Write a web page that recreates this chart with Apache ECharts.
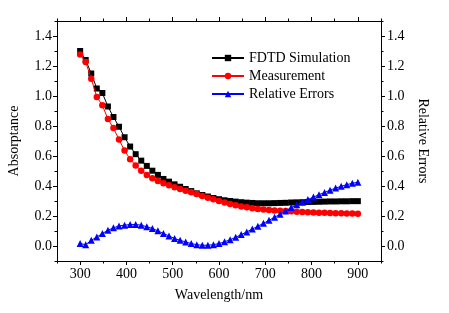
<!DOCTYPE html>
<html><head><meta charset="utf-8">
<script src="https://cdn.jsdelivr.net/npm/echarts@6/dist/echarts.min.js"></script>
<style>html,body{margin:0;padding:0;background:#fff}#c{width:449px;height:313px}</style>
</head><body><div id="c"></div>
<script>
const wavelength = [300,312,324,336,348,360,372,384,396,408,420,432,444,456,468,480,492,504,516,528,540,552,564,576,588,600,612,624,636,648,660,672,684,696,708,720,732,744,756,768,780,792,804,816,828,840,852,864,876,888,900];
const fdtd = [1.30,1.24,1.15,1.05,1.02,0.93,0.86,0.795,0.725,0.663,0.612,0.569,0.534,0.502,0.474,0.447,0.429,0.411,0.395,0.380,0.366,0.351,0.340,0.330,0.320,0.312,0.305,0.300,0.296,0.292,0.289,0.287,0.285,0.285,0.285,0.286,0.287,0.288,0.290,0.291,0.292,0.293,0.294,0.295,0.296,0.297,0.297,0.298,0.298,0.299,0.299];
const measurement = [1.277,1.226,1.115,0.994,0.938,0.846,0.786,0.71,0.636,0.579,0.536,0.502,0.474,0.451,0.433,0.418,0.405,0.391,0.380,0.368,0.358,0.346,0.333,0.322,0.311,0.300,0.290,0.280,0.272,0.264,0.258,0.252,0.247,0.243,0.240,0.237,0.235,0.233,0.231,0.229,0.227,0.225,0.224,0.222,0.221,0.220,0.219,0.218,0.217,0.216,0.215];
const relErrors = [0.016,0.009,0.038,0.06,0.083,0.105,0.121,0.134,0.139,0.143,0.143,0.139,0.128,0.117,0.101,0.083,0.067,0.05,0.038,0.027,0.016,0.009,0.005,0.005,0.009,0.016,0.028,0.042,0.058,0.076,0.094,0.113,0.132,0.151,0.171,0.192,0.211,0.234,0.256,0.275,0.292,0.310,0.326,0.342,0.357,0.372,0.386,0.398,0.409,0.418,0.425];
const xMajor = [300,400,500,600,700,800,900];
const xMinor = [250,350,450,550,650,750,850,950];
const yMajor = [0,0.2,0.4,0.6,0.8,1.0,1.2,1.4];
const yMinor = [-0.1,0.1,0.3,0.5,0.7,0.9,1.1,1.3,1.5];

const FONT = '"Liberation Serif","Times New Roman",serif';
const FS = 14;
const black = '#000';
function xAx(pos, labels, ticks, len, lineShow, extra) {
  return Object.assign({
    type:'value', position:pos, min:250, max:950, gridIndex:0,
    axisLine:{show:lineShow, onZero:false, lineStyle:{color:black, width:1}},
    axisTick:{show:true, inside:false, length:len, customValues:ticks, lineStyle:{color:black}},
    axisLabel:{show:labels, customValues:ticks, color:black, fontFamily:FONT, fontSize:FS, margin:6},
    splitLine:{show:false}
  }, extra||{});
}
function yAx(pos, labels, ticks, len, lineShow, margin, extra) {
  return Object.assign({
    type:'value', position:pos, min:-0.1, max:1.5,
    axisLine:{show:lineShow, onZero:false, lineStyle:{color:black, width:1}},
    axisTick:{show:true, inside:false, length:len, customValues:ticks, lineStyle:{color:black}},
    axisLabel:{show:labels, customValues:ticks, color:black, fontFamily:FONT, fontSize:FS, margin:margin,
      formatter:v=>Number(v).toFixed(1)},
    splitLine:{show:false}
  }, extra||{});
}
const xs = wavelength;
const chart = echarts.init(document.getElementById('c'), null, {renderer:'canvas'});
chart.setOption({
  animation:false,
  backgroundColor:'#fff',
  grid:{left:57, right:68, top:21, bottom:52, containLabel:false, outerBoundsMode:'none'},
  legend:{
    orient:'vertical', left:206, top:46, itemWidth:32, itemHeight:8, itemGap:4,
    textStyle:{fontFamily:FONT, fontSize:FS, color:black},
    data:['FDTD Simulation','Measurement','Relative Errors']
  },
  xAxis:[
    xAx('bottom', true, xMajor, 4, true, {name:'Wavelength/nm', nameLocation:'middle', nameGap:27,
      nameTextStyle:{fontFamily:FONT, fontSize:FS, color:black}}),
    xAx('bottom', false, xMinor, 2.5, false),
    xAx('top', false, xMajor, 4, true),
    xAx('top', false, xMinor, 2.5, false)
  ],
  yAxis:[
    yAx('left', true, yMajor, 4, true, 5, {name:'Absorptance', nameLocation:'middle', nameRotate:90, nameGap:36,
      nameTextStyle:{fontFamily:FONT, fontSize:FS, color:black}}),
    yAx('left', false, yMinor, 2.5, false, 5),
    yAx('right', true, yMajor, 4, true, 6, {name:'Relative Errors', nameLocation:'middle', nameRotate:-90, nameGap:33,
      nameTextStyle:{fontFamily:FONT, fontSize:FS, color:black}}),
    yAx('right', false, yMinor, 2.5, false, 6)
  ],
  series:[
    {name:'FDTD Simulation', type:'line', xAxisIndex:0, yAxisIndex:0,
      data:xs.map((x,i)=>[x,fdtd[i]]), symbol:'rect', symbolSize:6,
      itemStyle:{color:'#000'}, lineStyle:{color:'#000', width:1}, z:3},
    {name:'Measurement', type:'line', xAxisIndex:0, yAxisIndex:0,
      data:xs.map((x,i)=>[x,measurement[i]]), symbol:'circle', symbolSize:6.5,
      itemStyle:{color:'#ff0000'}, lineStyle:{color:'#ff0000', width:1}, z:4},
    {name:'Relative Errors', type:'line', xAxisIndex:0, yAxisIndex:2,
      data:xs.map((x,i)=>[x,relErrors[i]]), symbol:'triangle', symbolSize:7,
      itemStyle:{color:'#0000ff'}, lineStyle:{color:'#0000ff', width:1}, z:5}
  ]
});
</script></body></html>
